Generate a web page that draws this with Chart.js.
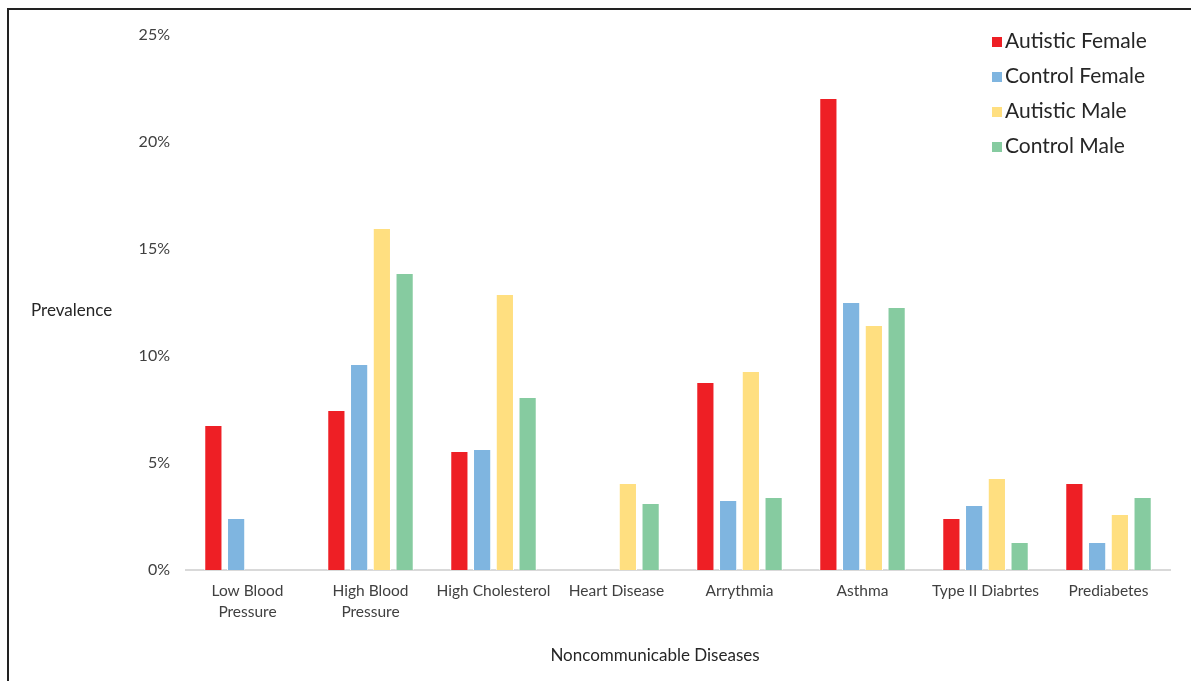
<!DOCTYPE html>
<html>
<head>
<meta charset="utf-8">
<script src="https://cdn.jsdelivr.net/npm/chart.js@4.4.1/dist/chart.umd.min.js"></script>
<style>
  html, body { margin: 0; padding: 0; background: #fff; }
  #wrap { width: 1191px; height: 681px; position: relative; }
</style>
</head>
<body>
<div id="wrap"><canvas id="myChart" width="1191" height="681"></canvas></div>
<script>
const categorias = [
    ['Low Blood', 'Pressure'],
    ['High Blood', 'Pressure'],
    'High Cholesterol',
    'Heart Disease',
    'Arrythmia',
    'Asthma',
    'Type II Diabrtes',
    'Prediabetes'
];

const autisticFemale = [6.78, 7.48, 5.56, 0, 8.79, 22.06, 2.43, 4.07];
const controlFemale  = [2.43, 9.63, 5.65, 0, 3.27, 12.52, 3.04, 1.31];
const autisticMale   = [0, 15.98, 12.9, 4.07, 9.3, 11.45, 4.3, 2.62];
const controlMale    = [0, 13.88, 8.08, 3.13, 3.41, 12.29, 1.31, 3.41];

const yTicks = [0, 5, 10, 15, 20, 25];

const colores = ['#EE1F25', '#7FB5E0', '#FFDF80', '#86CBA0'];
const fuente = 'Lato, "Open Sans", sans-serif';

// leyenda y titulos dibujados a mano (la leyenda va dentro del area)
const extras = {
    id: 'extras',
    afterDraw(chart) {
        const ctx = chart.ctx;
        ctx.save();

        // marco
        ctx.strokeStyle = '#222';
        ctx.lineWidth = 2;
        ctx.beginPath();
        ctx.moveTo(8, 681);
        ctx.lineTo(8, 9);
        ctx.lineTo(1191, 9);
        ctx.stroke();

        // leyenda
        ctx.font = '21px ' + fuente;
        ctx.textBaseline = 'middle';
        ctx.textAlign = 'left';
        chart.data.datasets.forEach((ds, i) => {
            const y = 41 + i * 35;
            ctx.fillStyle = ds.backgroundColor;
            ctx.fillRect(992, y - 4, 10, 10);
            ctx.fillStyle = '#262626';
            ctx.fillText(ds.label, 1005, y);
        });

        // titulos de ejes
        ctx.font = '17px ' + fuente;
        ctx.fillStyle = '#262626';
        ctx.fillText('Prevalence', 31, 311);
        ctx.textAlign = 'center';
        ctx.fillText('Noncommunicable Diseases', 655, 656);

        ctx.restore();
    }
};

const ctx = document.getElementById('myChart').getContext('2d');
const chart = new Chart(ctx, {
    type: 'bar',
    data: {
        labels: categorias,
        datasets: [
            { label: 'Autistic Female', data: autisticFemale, backgroundColor: colores[0] },
            { label: 'Control Female', data: controlFemale, backgroundColor: colores[1] },
            { label: 'Autistic Male', data: autisticMale, backgroundColor: colores[2] },
            { label: 'Control Male', data: controlMale, backgroundColor: colores[3] }
        ]
    },
    options: {
        responsive: false,
        animation: false,
        devicePixelRatio: 1,
        datasets: {
            bar: {
                categoryPercentage: 0.74,
                barPercentage: 0.8,
                borderColor: '#ffffff',
                borderWidth: 1
            }
        },
        layout: {
            padding: { left: 100, right: 21, top: 35, bottom: 0 }
        },
        plugins: {
            legend: { display: false },
            tooltip: { enabled: false }
        },
        scales: {
            x: {
                grid: { display: false, drawTicks: false },
                border: { display: true, color: '#D9D9D9', width: 2 },
                ticks: {
                    color: '#404040',
                    font: { family: fuente, size: 15.5, lineHeight: 1.38 },
                    padding: 10,
                    maxRotation: 0,
                    autoSkip: false
                },
                afterFit: s => { s.height = 111; }
            },
            y: {
                min: 0,
                max: 25,
                afterBuildTicks: s => { s.ticks = yTicks.map(v => ({ value: v })); },
                grid: { display: false, drawTicks: false },
                border: { display: false },
                ticks: {
                    color: '#404040',
                    font: { family: fuente, size: 16 },
                    padding: 16,
                    callback: v => v + '%'
                },
                afterFit: s => { s.width = 86; }
            }
        }
    },
    plugins: [extras]
});
</script>
</body>
</html>
